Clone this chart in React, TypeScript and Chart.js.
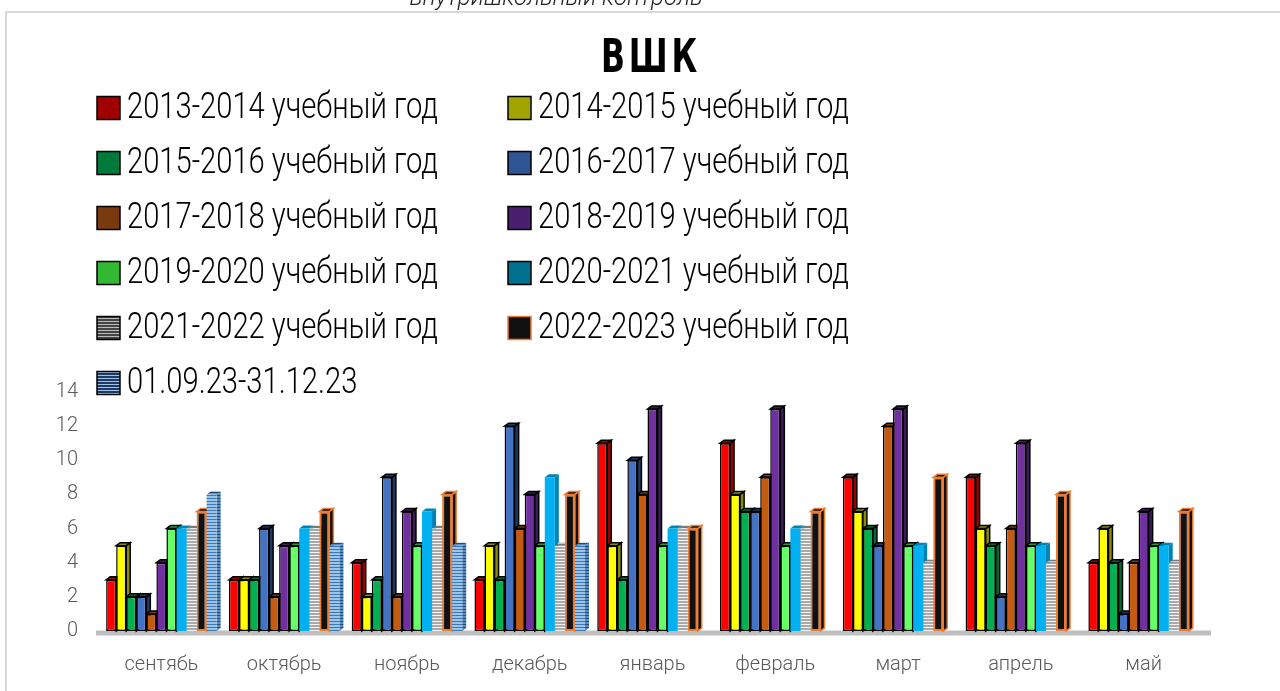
import React, { useEffect, useRef } from 'react';
import { Chart, registerables } from 'chart.js';

Chart.register(...registerables);

const FONT = '"Liberation Sans Narrow", "DejaVu Sans Condensed", Roboto, sans-serif';
const LIGHT = 'Roboto, "Noto Sans", sans-serif';

const chartTitle = 'ВШК';
const headerText = 'внутришкольный контроль';
const months = ['сентябь', 'октябрь', 'ноябрь', 'декабрь', 'январь', 'февраль', 'март', 'апрель', 'май'];
const yTicks = [0, 2, 4, 6, 8, 10, 12, 14];

const seriesLabels = [
  '2013-2014 учебный год',
  '2014-2015 учебный год',
  '2015-2016 учебный год',
  '2016-2017 учебный год',
  '2017-2018 учебный год',
  '2018-2019 учебный год',
  '2019-2020 учебный год',
  '2020-2021 учебный год',
  '2021-2022 учебный год',
  '2022-2023 учебный год',
  '01.09.23-31.12.23',
];

const y2013 = [3, 3, 4, 3, 11, 11, 9, 9, 4];
const y2014 = [5, 3, 2, 5, 5, 8, 7, 6, 6];
const y2015 = [2, 3, 3, 3, 3, 7, 6, 5, 4];
const y2016 = [2, 6, 9, 12, 10, 7, 5, 2, 1];
const y2017 = [1, 2, 2, 6, 8, 9, 12, 6, 4];
const y2018 = [4, 5, 7, 8, 13, 13, 13, 11, 7];
const y2019 = [6, 5, 5, 5, 5, 5, 5, 5, 5];
const y2020 = [6, 6, 7, 9, 6, 6, 5, 5, 5];
const y2021 = [6, 6, 6, 5, 6, 6, 4, 4, 4];
const y2022 = [7, 7, 8, 8, 6, 7, 9, 8, 7];
const y2023 = [8, 5, 5, 5, null, null, null, null, null];

const seriesValues = [y2013, y2014, y2015, y2016, y2017, y2018, y2019, y2020, y2021, y2022, y2023];

const frontColors = ['#ff0000', '#ffff00', '#00b050', '#4472c4', '#c55a11', '#7030a0', '#66ff66', '#00b0f0', 'STRIPE_GRAY', '#111111', 'STRIPE_BLUE'];
const sideColors = ['#9a0000', '#8c8c00', '#006b30', '#203864', '#7a3608', '#3d1a58', '#2f9a2f', '#0082b4', 'STRIPE_GRAY_D', '#111111', 'STRIPE_BLUE_D'];
const legendColors = ['#a00000', '#a3a300', '#007a3a', '#2f5597', '#7a3a10', '#4b1f6f', '#33b833', '#00708f', 'STRIPE_LEG_GRAY', '#111111', 'STRIPE_LEG_BLUE'];
const borderColors = ['#000', '#000', '#000', '#000', '#000', '#000', '#000', null, null, '#ed7d31', null];

function makeStripe(a: string, b: string, period = 3, lineH = 1) {
  const c = document.createElement('canvas');
  c.width = 4;
  c.height = period;
  const x = c.getContext('2d')!;
  x.fillStyle = a;
  x.fillRect(0, 0, 4, period);
  x.fillStyle = b;
  x.fillRect(0, 0, 4, lineH);
  return x.createPattern(c, 'repeat')!;
}

export default function App() {
  const ref = useRef<HTMLCanvasElement | null>(null);

  useEffect(() => {
    const canvas = ref.current!;
    const ctx0 = canvas.getContext('2d')!;
    const pats: Record<string, CanvasPattern> = {
      STRIPE_GRAY: makeStripe('#a9a9a9', '#f4f4f4', 3, 1),
      STRIPE_GRAY_D: makeStripe('#7a7a7a', '#c8c8c8', 3, 1),
      STRIPE_BLUE: makeStripe('#9dc3e6', '#3a78b5', 3, 1),
      STRIPE_BLUE_D: makeStripe('#5a8cc0', '#1f4e79', 3, 1),
      STRIPE_LEG_GRAY: makeStripe('#444444', '#bbbbbb', 3, 1),
      STRIPE_LEG_BLUE: makeStripe('#1f3864', '#9dc3e6', 3, 1),
    };
    const col = (c: string) => (pats[c] ? pats[c] : c);

    const DX = 4;
    const DY = 3;

    const decor = {
      id: 'decor',
      beforeDraw(chart: any) {
        const ctx = chart.ctx;
        ctx.save();
        ctx.fillStyle = '#ffffff';
        ctx.fillRect(0, 0, chart.width, chart.height);
        ctx.strokeStyle = '#d9d9d9';
        ctx.lineWidth = 2;
        ctx.strokeRect(6, 12, chart.width + 20, chart.height + 20);
        // header (cut off at top)
        ctx.fillStyle = '#222';
        ctx.font = `italic 300 24px ${LIGHT}`;
        ctx.textAlign = 'center';
        ctx.textBaseline = 'alphabetic';
        ctx.fillText(headerText, 556, 5, 323);
        // title
        ctx.font = `bold 46px ${FONT}`;
        ctx.textBaseline = 'middle';
        (ctx as any).letterSpacing = '5px';
        ctx.fillStyle = '#000';
        ctx.fillText(chartTitle, 651, 60, 100);
        (ctx as any).letterSpacing = '0px';
        // legend
        ctx.font = `300 37px ${LIGHT}`;
        ctx.textAlign = 'left';
        const ref0 = ctx.measureText(seriesLabels[0]).width;
        const scale = 311 / ref0;
        chart.data.datasets.forEach((ds: any, i: number) => {
          const colI = i % 2;
          const row = Math.floor(i / 2);
          const bx = colI === 0 ? 97 : 508;
          const cy = 108 + row * 55;
          const bs = 23;
          ctx.fillStyle = col(legendColors[i]);
          ctx.fillRect(bx, cy - bs / 2, bs, bs);
          ctx.lineWidth = 1.5;
          ctx.strokeStyle = borderColors[i] === '#ed7d31' ? '#ed7d31' : '#000';
          ctx.strokeRect(bx, cy - bs / 2, bs, bs);
          ctx.fillStyle = '#000';
          ctx.textBaseline = 'middle';
          const w = ctx.measureText(ds.label).width * scale;
          ctx.fillText(ds.label, bx + 30, cy + 1, w);
        });
        ctx.restore();
      },
      beforeDatasetsDraw(chart: any) {
        const ctx = chart.ctx;
        const area = chart.chartArea;
        ctx.save();
        ctx.strokeStyle = '#bfbfbf';
        ctx.lineWidth = 5;
        ctx.beginPath();
        ctx.moveTo(area.left - 4, area.bottom + 2);
        ctx.lineTo(area.right + 6, area.bottom + 2);
        ctx.stroke();
        chart.data.datasets.forEach((ds: any, i: number) => {
          const meta = chart.getDatasetMeta(i);
          meta.data.forEach((bar: any, j: number) => {
            if (ds.data[j] == null) return;
            const p = bar.getProps(['x', 'y', 'base', 'width'], true);
            const l = p.x - p.width / 2;
            const r = p.x + p.width / 2;
            const bc = borderColors[i] || null;
            ctx.fillStyle = col(sideColors[i]);
            ctx.beginPath();
            ctx.moveTo(r, p.y);
            ctx.lineTo(r + DX, p.y - DY);
            ctx.lineTo(r + DX, p.base - DY);
            ctx.lineTo(r, p.base);
            ctx.closePath();
            ctx.fill();
            if (bc) {
              ctx.lineWidth = 1.5;
              ctx.strokeStyle = bc;
              ctx.stroke();
            }
            ctx.beginPath();
            ctx.moveTo(l, p.y);
            ctx.lineTo(l + DX, p.y - DY);
            ctx.lineTo(r + DX, p.y - DY);
            ctx.lineTo(r, p.y);
            ctx.closePath();
            ctx.fill();
            if (bc) {
              ctx.lineWidth = 1.5;
              ctx.strokeStyle = bc;
              ctx.stroke();
            }
          });
        });
        ctx.restore();
      },
    };

    const datasets = seriesLabels.map((label, i) => ({
      label,
      data: seriesValues[i],
      backgroundColor: col(frontColors[i]),
      borderColor: borderColors[i] || 'rgba(0,0,0,0)',
      borderWidth: borderColors[i] ? (i === 9 ? 2 : 1.5) : 0,
      borderSkipped: false,
    }));

    const tickFont = { family: LIGHT, size: 20, weight: 300 };

    const chart = new Chart(ctx0, {
      type: 'bar',
      data: { labels: months, datasets },
      plugins: [decor],
      options: {
        responsive: false,
        animation: false,
        devicePixelRatio: 1,
        layout: { padding: { left: 40, right: 75, top: 392, bottom: 5 } },
        datasets: { bar: { categoryPercentage: 0.9, barPercentage: 1 } },
        plugins: {
          legend: { display: false },
          title: { display: false },
          tooltip: { enabled: false },
        },
        scales: {
          x: {
            grid: { display: false, drawTicks: false },
            border: { display: false },
            ticks: { color: '#595959', font: tickFont, padding: 22 },
            afterFit: (s: any) => { s.height = 55; },
          },
          y: {
            min: 0,
            max: 14,
            afterBuildTicks: (s: any) => { s.ticks = yTicks.map((v) => ({ value: v })); },
            grid: { display: false, drawTicks: false },
            border: { display: false },
            ticks: { color: '#595959', font: tickFont, padding: 22 },
            afterFit: (s: any) => { s.width = 60; },
          },
        },
      },
    } as any);
    return () => chart.destroy();
  }, []);

  return (
    <div style={{ position: 'fixed', left: 0, top: 0, width: 1280, height: 691, background: '#fff', overflow: 'hidden' }}>
      <canvas ref={ref} width={1280} height={691} style={{ display: 'block', width: 1280, height: 691 }} />
    </div>
  );
}
